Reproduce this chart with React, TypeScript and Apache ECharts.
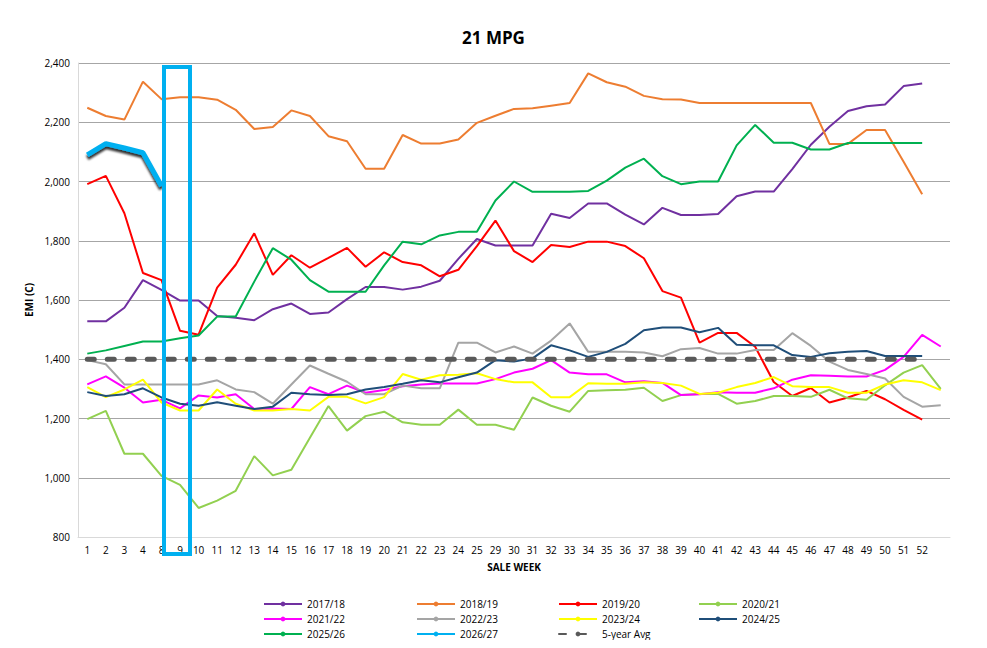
import { useEffect, useRef } from 'react';
import * as echarts from 'echarts';

const weeks = ['1', '2', '3', '4', '8', '9', '10', '11', '12', '13', '14', '15', '16', '17', '18', '19', '20', '21', '22', '23', '24', '25', '29', '30', '31', '32', '33', '34', '35', '36', '37', '38', '39', '40', '41', '42', '43', '44', '45', '46', '47', '48', '49', '50', '51', '52', ''];

const s1718 = [1528, 1528, 1574, 1667, 1634, 1598, 1598, 1546, 1540, 1532, 1569, 1588, 1553, 1558, 1603, 1644, 1644, 1635, 1645, 1665, 1739, 1806, 1784, 1784, 1784, 1891, 1877, 1926, 1926, 1888, 1855, 1911, 1887, 1887, 1890, 1950, 1966, 1966, 2042, 2124, 2185, 2238, 2254, 2260, 2322, 2331, null];
const s1819 = [2249, 2221, 2209, 2337, 2278, 2284, 2284, 2276, 2242, 2177, 2184, 2240, 2221, 2153, 2136, 2043, 2043, 2157, 2128, 2128, 2142, 2198, 2222, 2245, 2247, 2256, 2265, 2365, 2335, 2320, 2289, 2278, 2277, 2265, 2265, 2265, 2265, 2265, 2265, 2265, 2127, 2127, 2174, 2174, 2067, 1957, null];
const s1920 = [1991, 2019, 1893, 1691, 1667, 1496, 1483, 1642, 1719, 1825, 1685, 1751, 1709, 1742, 1776, 1712, 1761, 1728, 1717, 1680, 1702, 1782, 1868, 1765, 1728, 1786, 1779, 1797, 1797, 1782, 1741, 1630, 1608, 1456, 1489, 1489, 1442, 1323, 1276, 1303, 1254, 1271, 1293, 1265, 1229, 1196, null];
const s2021 = [1198, 1226, 1081, 1081, 1006, 976, 898, 923, 956, 1073, 1008, 1027, 1135, 1242, 1159, 1208, 1223, 1187, 1179, 1179, 1230, 1179, 1179, 1162, 1271, 1243, 1223, 1293, 1295, 1297, 1304, 1259, 1279, 1283, 1283, 1250, 1259, 1276, 1276, 1273, 1297, 1268, 1263, 1312, 1355, 1380, 1300];
const s2122 = [1315, 1342, 1304, 1254, 1263, 1234, 1278, 1271, 1282, 1232, 1234, 1232, 1306, 1282, 1311, 1287, 1296, 1309, 1315, 1318, 1318, 1318, 1333, 1355, 1368, 1397, 1355, 1349, 1349, 1322, 1326, 1320, 1279, 1282, 1289, 1287, 1287, 1302, 1331, 1346, 1344, 1342, 1342, 1364, 1408, 1482, 1443];
const s2223 = [1397, 1383, 1315, 1315, 1315, 1315, 1315, 1329, 1298, 1289, 1250, 1315, 1379, 1351, 1324, 1282, 1282, 1311, 1302, 1302, 1456, 1456, 1423, 1443, 1419, 1463, 1521, 1425, 1425, 1425, 1423, 1410, 1434, 1438, 1419, 1419, 1431, 1431, 1488, 1445, 1392, 1364, 1350, 1335, 1273, 1240, 1245];
const s2324 = [1306, 1272, 1298, 1331, 1254, 1227, 1227, 1298, 1250, 1227, 1227, 1232, 1227, 1273, 1273, 1251, 1272, 1350, 1331, 1346, 1348, 1353, 1333, 1322, 1322, 1272, 1272, 1319, 1317, 1317, 1322, 1320, 1311, 1283, 1287, 1306, 1320, 1340, 1309, 1306, 1306, 1287, 1287, 1315, 1329, 1322, 1296];
const s2425 = [1289, 1276, 1282, 1302, 1271, 1250, 1243, 1255, 1243, 1232, 1240, 1287, 1282, 1279, 1282, 1298, 1306, 1317, 1329, 1322, 1339, 1355, 1397, 1392, 1403, 1447, 1430, 1408, 1425, 1452, 1498, 1507, 1507, 1491, 1506, 1449, 1447, 1447, 1414, 1408, 1420, 1425, 1428, 1411, 1411, 1411, null];
const s2526 = [1419, 1430, 1445, 1460, 1460, 1471, 1480, 1544, 1544, 1662, 1775, 1736, 1667, 1628, 1628, 1628, 1717, 1797, 1788, 1818, 1830, 1830, 1936, 2000, 1965, 1965, 1965, 1968, 2003, 2047, 2077, 2018, 1991, 2000, 2000, 2122, 2191, 2131, 2131, 2108, 2108, 2130, 2130, 2130, 2130, 2130, null];
const s2627 = [2090, 2128, 2113, 2097, 1985];
const avg5 = weeks.slice(0, 46).map(() => 1400);

const seriesDefs = [
  { name: '2017/18', data: s1718, color: '#7030a0' },
  { name: '2018/19', data: s1819, color: '#ed7d31' },
  { name: '2019/20', data: s1920, color: '#ff0000' },
  { name: '2020/21', data: s2021, color: '#92d050' },
  { name: '2021/22', data: s2122, color: '#ff00ff' },
  { name: '2022/23', data: s2223, color: '#a5a5a5' },
  { name: '2023/24', data: s2324, color: '#ffff00' },
  { name: '2024/25', data: s2425, color: '#1f4e79' },
  { name: '2025/26', data: s2526, color: '#00b050' },
  { name: '2026/27', data: s2627, color: '#00b0f0' },
  { name: '5-year Avg', data: avg5, color: '#595959' },
];

const legendCols = [255, 408, 550, 690];
const legendRows = [598, 613, 628];

export default function App() {
  const ref = useRef<HTMLDivElement>(null);

  useEffect(() => {
    if (!ref.current) return;
    const chart = echarts.init(ref.current, null, { renderer: 'svg' });
    const font = 'Open Sans';
    chart.setOption({
      animation: false,
      textStyle: { fontFamily: font },
      title: {
        text: '21 MPG',
        left: 'center',
        top: 16,
        textStyle: { fontSize: 17, fontWeight: 'bold', color: '#000', fontFamily: font },
      },
      grid: { left: 70, right: 29, top: 55, bottom: 103 },
      xAxis: {
        type: 'category',
        data: weeks,
        boundaryGap: true,
        name: 'SALE WEEK',
        nameLocation: 'middle',
        nameGap: 25,
        nameTextStyle: { fontSize: 10, fontWeight: 'bold', color: '#000' },
        axisLine: { lineStyle: { color: '#d9d9d9' } },
        axisTick: { show: false },
        axisLabel: { interval: 0, fontSize: 10, color: '#000', margin: 8 },
      },
      yAxis: {
        type: 'value',
        min: 800,
        max: 2400,
        interval: 200,
        name: 'EMI (C)',
        nameLocation: 'middle',
        nameGap: 42,
        nameTextStyle: { fontSize: 10, fontWeight: 'bold', color: '#000' },
        axisLine: { show: true, lineStyle: { color: '#d9d9d9' } },
        axisLabel: { fontSize: 10, color: '#000' },
        splitLine: { lineStyle: { color: '#a6a6a6' } },
      },
      legend: seriesDefs.map((s, i) => ({
        data: [s.name],
        left: legendCols[i % 4],
        top: legendRows[Math.floor(i / 4)] - 7,
        itemWidth: 38,
        itemHeight: 6,
        textStyle: { fontSize: 10, color: '#000' },
        padding: 0,
      })),
      series: seriesDefs.map((s) => {
        const isAvg = s.name === '5-year Avg';
        const isCur = s.name === '2026/27';
        return {
          name: s.name,
          type: 'line',
          data: s.data,
          symbol: 'none',
          color: s.color,
          z: isCur ? 5 : 2,
          lineStyle: {
            color: s.color,
            width: isAvg ? 5 : isCur ? 5 : 2,
            type: isAvg ? [7, 13] : 'solid',
            cap: isAvg ? 'round' : 'butt',
            ...(isCur ? { shadowColor: 'rgba(0,0,0,0.8)', shadowOffsetY: 3, shadowBlur: 2 } : {}),
          },
        };
      }),
      graphic: [
        {
          type: 'rect',
          shape: { x: 156, y: 59, width: 26, height: 487 },
          style: { fill: 'none', stroke: '#00b0f0', lineWidth: 4 },
          z: 10,
        },
      ],
    });
    return () => chart.dispose();
  }, []);

  return <div ref={ref} style={{ width: 971, height: 632 }} />;
}
